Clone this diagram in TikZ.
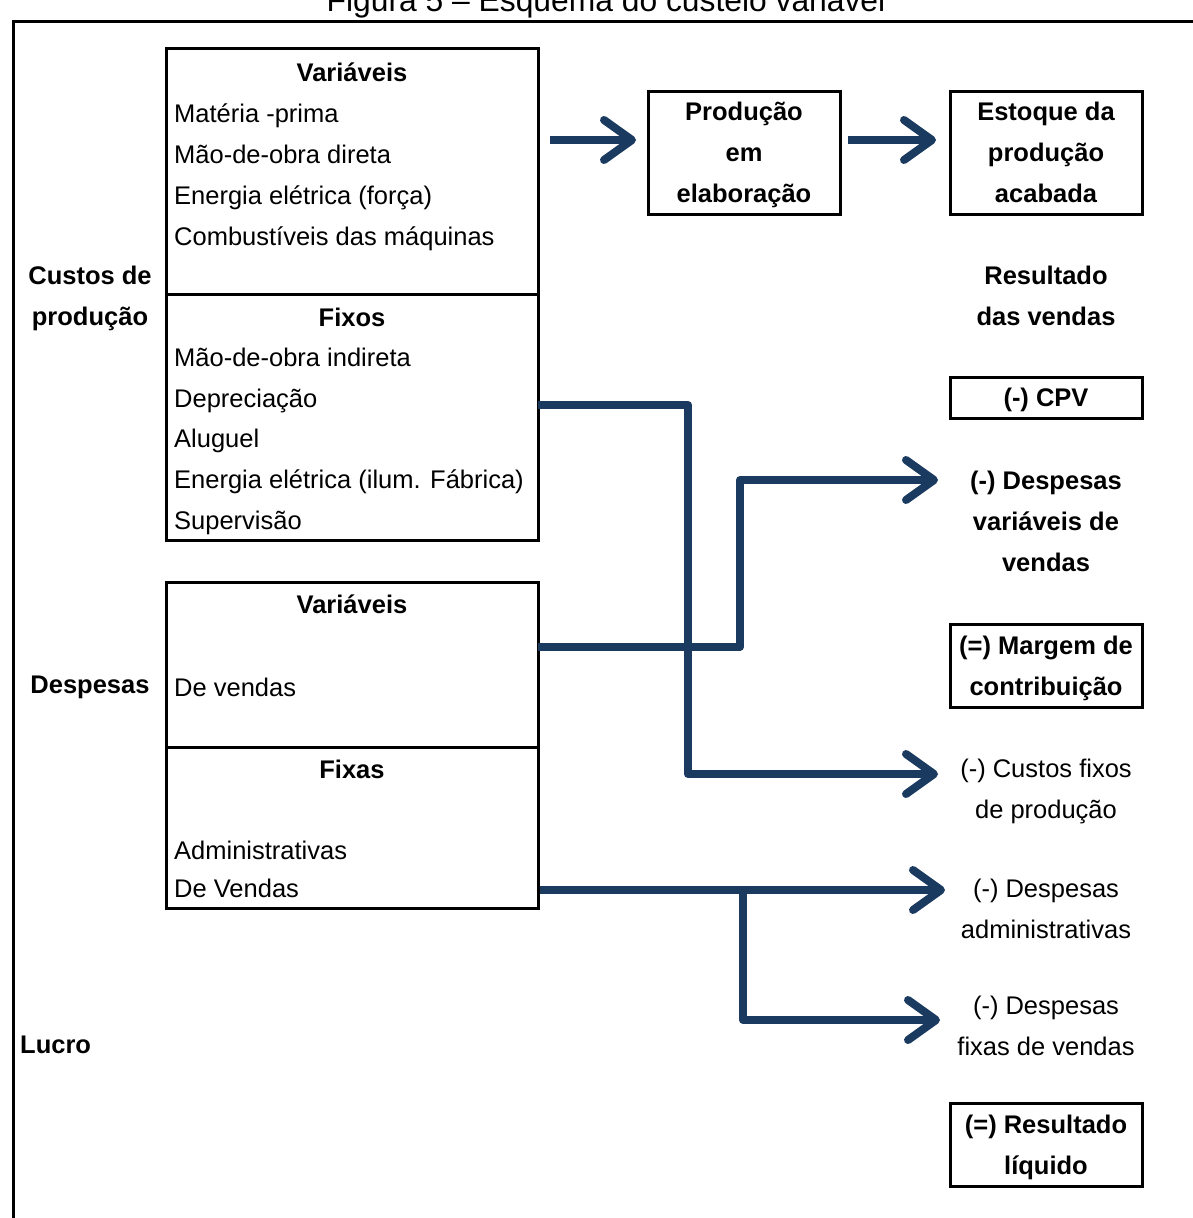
\documentclass[tikz,border=0pt]{standalone}
\usepackage{fontspec}
\setmainfont{Liberation Sans}
\usetikzlibrary{positioning,arrows.meta}
\definecolor{navyflow}{RGB}{27,58,95}

\begin{document}
\begin{tikzpicture}[
    x=1pt, y=-1pt,
    every node/.style={font=\fontsize{25.5}{41}\selectfont, inner sep=0pt},
    box/.style={draw, line width=3pt, inner sep=0pt, outer sep=0pt},
    boxtext/.style={box, font=\fontsize{25.5}{41}\selectfont\bfseries,
      align=center, text depth=0pt, minimum width=192pt},
    hdr/.style={font=\fontsize{25.5}{41}\selectfont\bfseries, anchor=base},
    item/.style={anchor=base west},
    lbl/.style={font=\fontsize{25.5}{41}\selectfont\bfseries, align=center},
    res/.style={align=center},
    flow/.style={navyflow, line width=8pt, line join=round,
      -{Straight Barb[length=28pt, width=40pt, round]}},
    frame/.style={line width=3pt},
  ]
    \useasboundingbox (0,0) rectangle (1192,1218);

    % Title (cut at the top edge) and outer frame
    \node[anchor=base, font=\fontsize{31.8}{38}\selectfont] (title) at (606,12)
      {Figura 5 – Esquema do custeio variável};
    \draw[frame] (13,1230) -- (13,21) -- (1205,21);

    % --- Custos de produção
    \node[lbl] (custos) at (90,298) {Custos de\\produção};
    \node[box, anchor=north west, minimum width=372pt, minimum height=246pt]
      (cpvar) at (166,48) {};
    \node[box, below=0pt of cpvar, minimum width=372pt, minimum height=246pt]
      (cpfix) {};

    \node[hdr] (cvhead) at (352,81) {Variáveis};
    \foreach \t [count=\i] in {{Matéria -prima}, {Mão-de-obra direta},
        {Energia elétrica (força)}, {Combustíveis das máquinas}}
      \node[item] (cv\i) at (174, 81+41*\i) {\t};

    \node[hdr] (cfhead) at (352,326) {Fixos};
    \foreach \t [count=\i] in {{Mão-de-obra indireta}, {Depreciação}, {Aluguel},
        {Energia elétrica (ilum. Fábrica)}, {Supervisão}}
      \node[item] (cf\i) at (174, 326+40.6*\i) {\t};

    % --- Despesas
    \node[lbl] (desp) at (90,687) {Despesas};
    \node[box, anchor=north west, minimum width=372pt, minimum height=165pt]
      (dvar) at (166,582) {};
    \node[box, below=0pt of dvar, minimum width=372pt, minimum height=161pt]
      (dfix) {};

    \node[hdr] (dvhead) at (352,613) {Variáveis};
    \node[item] (dv1) at (174,696) {De vendas};
    \node[hdr] (dfhead) at (352,778) {Fixas};
    \node[item] (df1) at (174,859) {Administrativas};
    \node[item] (df2) at (174,897) {De Vendas};

    % --- Lucro
    \node[lbl, anchor=west] (lucro) at (20,1045) {Lucro};

    % --- Production flow
    \node[boxtext, minimum height=123pt] (prod) at (744,152.5)
      {Produção\\em\\elaboração};
    \node[boxtext, minimum height=123pt] (estq) at (1046,152.5)
      {Estoque da\\produção\\acabada};

    % --- Resultado das vendas (right column)
    \node[lbl] (resv) at (1046,296) {Resultado\\das vendas};
    \node[boxtext, minimum height=41pt] (cpv) at (1046,397.5) {(-) CPV};
    \node[lbl] (dvv) at (1046,521) {(-) Despesas\\variáveis de\\vendas};
    \node[boxtext, minimum height=83pt] (marg) at (1046,665.5)
      {(=) Margem de\\contribuição};
    \node[res] (cfix) at (1046,791) {(-) Custos fixos\\de produção};
    \node[res] (dadm) at (1046,909) {(-) Despesas\\administrativas};
    \node[res] (dfv) at (1046,1026) {(-) Despesas\\fixas de vendas};
    \node[boxtext, minimum height=83pt] (reslq) at (1046,1144.5)
      {(=) Resultado\\líquido};

    % Arrow tips and bends
    \coordinate (row1) at ([yshift=12.5pt]prod.west);
    \coordinate (row2) at ([yshift=12.5pt]estq.west);
    \coordinate (tipdvv) at (938,480);
    \coordinate (tipcfix) at (938,774);
    \coordinate (tipdadm) at (945,890);
    \coordinate (tipdfv) at (940,1020);
    \coordinate (fork) at (743,890);

    % Connectors
    \draw[flow, shorten <=12pt, shorten >=12pt] (cpvar.east |- row1) -- (row1);
    \draw[flow, shorten <=8pt, shorten >=14pt] (prod.east |- row2) -- (row2);
    \draw[flow] ([yshift=12pt]cpfix.east) -- ++(150,0) |- (tipcfix);
    \draw[flow] ([yshift=17.5pt]dvar.east) -- ++(202,0) |- (tipdvv);
    \draw[flow, shorten <=2pt] (dfix.east |- tipdadm) -- (tipdadm);
    \draw[flow] (fork) |- (tipdfv);
  \end{tikzpicture}
\end{document}
